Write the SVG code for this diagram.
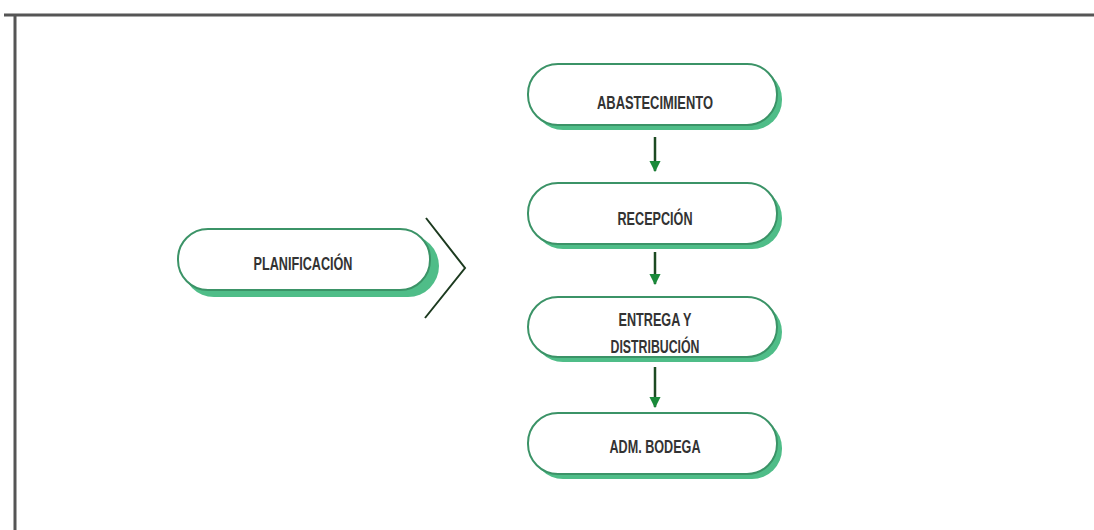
<svg xmlns="http://www.w3.org/2000/svg" width="1094" height="530" viewBox="0 0 1094 530">
<style>
.frame{stroke:#555;stroke-width:3;fill:none}
.sh{fill:#4fbd88}
.pill{fill:#fff;stroke:#3b9367;stroke-width:2}
.lbl{font-family:"Liberation Sans",Arial,sans-serif;font-weight:bold;font-size:19px;fill:#333;text-anchor:middle}
.conn{stroke:#1d4a22;stroke-width:2.5;fill:none}
.chev{stroke:#1c3a1f;stroke-width:2;fill:none}
</style>
<defs>
<marker id="ah" viewBox="0 0 10 10" refX="9" refY="5" markerWidth="4.5" markerHeight="4.5" orient="auto" markerUnits="strokeWidth">
<path d="M0,0 L10,5 L0,10 Z" fill="#1a8a3a"/>
</marker>
</defs>
<rect width="1094" height="530" fill="#fff"/>
<path class="frame" d="M4,15 H1094 M15,15 V530"/>
<g id="planificacion">
<rect class="sh" x="183" y="235" width="256" height="62" rx="31"/>
<rect class="pill" x="178" y="229" width="252" height="61" rx="30"/>
<text class="lbl" x="303" y="270" textLength="99" lengthAdjust="spacingAndGlyphs">PLANIFICACIÓN</text>
</g>
<g id="abastecimiento">
<rect class="sh" x="533" y="69" width="249" height="61" rx="30"/>
<rect class="pill" x="528" y="64" width="249" height="61" rx="30"/>
<text class="lbl" x="655" y="109" textLength="116" lengthAdjust="spacingAndGlyphs">ABASTECIMIENTO</text>
</g>
<g id="recepcion">
<rect class="sh" x="533" y="188" width="249" height="61" rx="30"/>
<rect class="pill" x="528" y="183" width="249" height="61" rx="30"/>
<text class="lbl" x="655" y="225" textLength="75" lengthAdjust="spacingAndGlyphs">RECEPCIÓN</text>
</g>
<g id="entrega">
<rect class="sh" x="533" y="302" width="249" height="60" rx="30"/>
<rect class="pill" x="528" y="297" width="249" height="60" rx="30"/>
<text class="lbl" x="655" y="326" textLength="73" lengthAdjust="spacingAndGlyphs">ENTREGA Y</text>
<text class="lbl" x="655" y="353" textLength="89" lengthAdjust="spacingAndGlyphs">DISTRIBUCIÓN</text>
</g>
<g id="adm-bodega">
<rect class="sh" x="533" y="418" width="249" height="61" rx="30"/>
<rect class="pill" x="528" y="413" width="249" height="61" rx="30"/>
<text class="lbl" x="655" y="453" textLength="91" lengthAdjust="spacingAndGlyphs">ADM. BODEGA</text>
</g>
<g id="connectors">
<path class="conn" d="M655,137 V171" marker-end="url(#ah)"/>
<path class="conn" d="M655,252 V284" marker-end="url(#ah)"/>
<path class="conn" d="M655,367 V407" marker-end="url(#ah)"/>
<path class="chev" d="M426,218 L465,268 L425,318"/>
</g>
</svg>
